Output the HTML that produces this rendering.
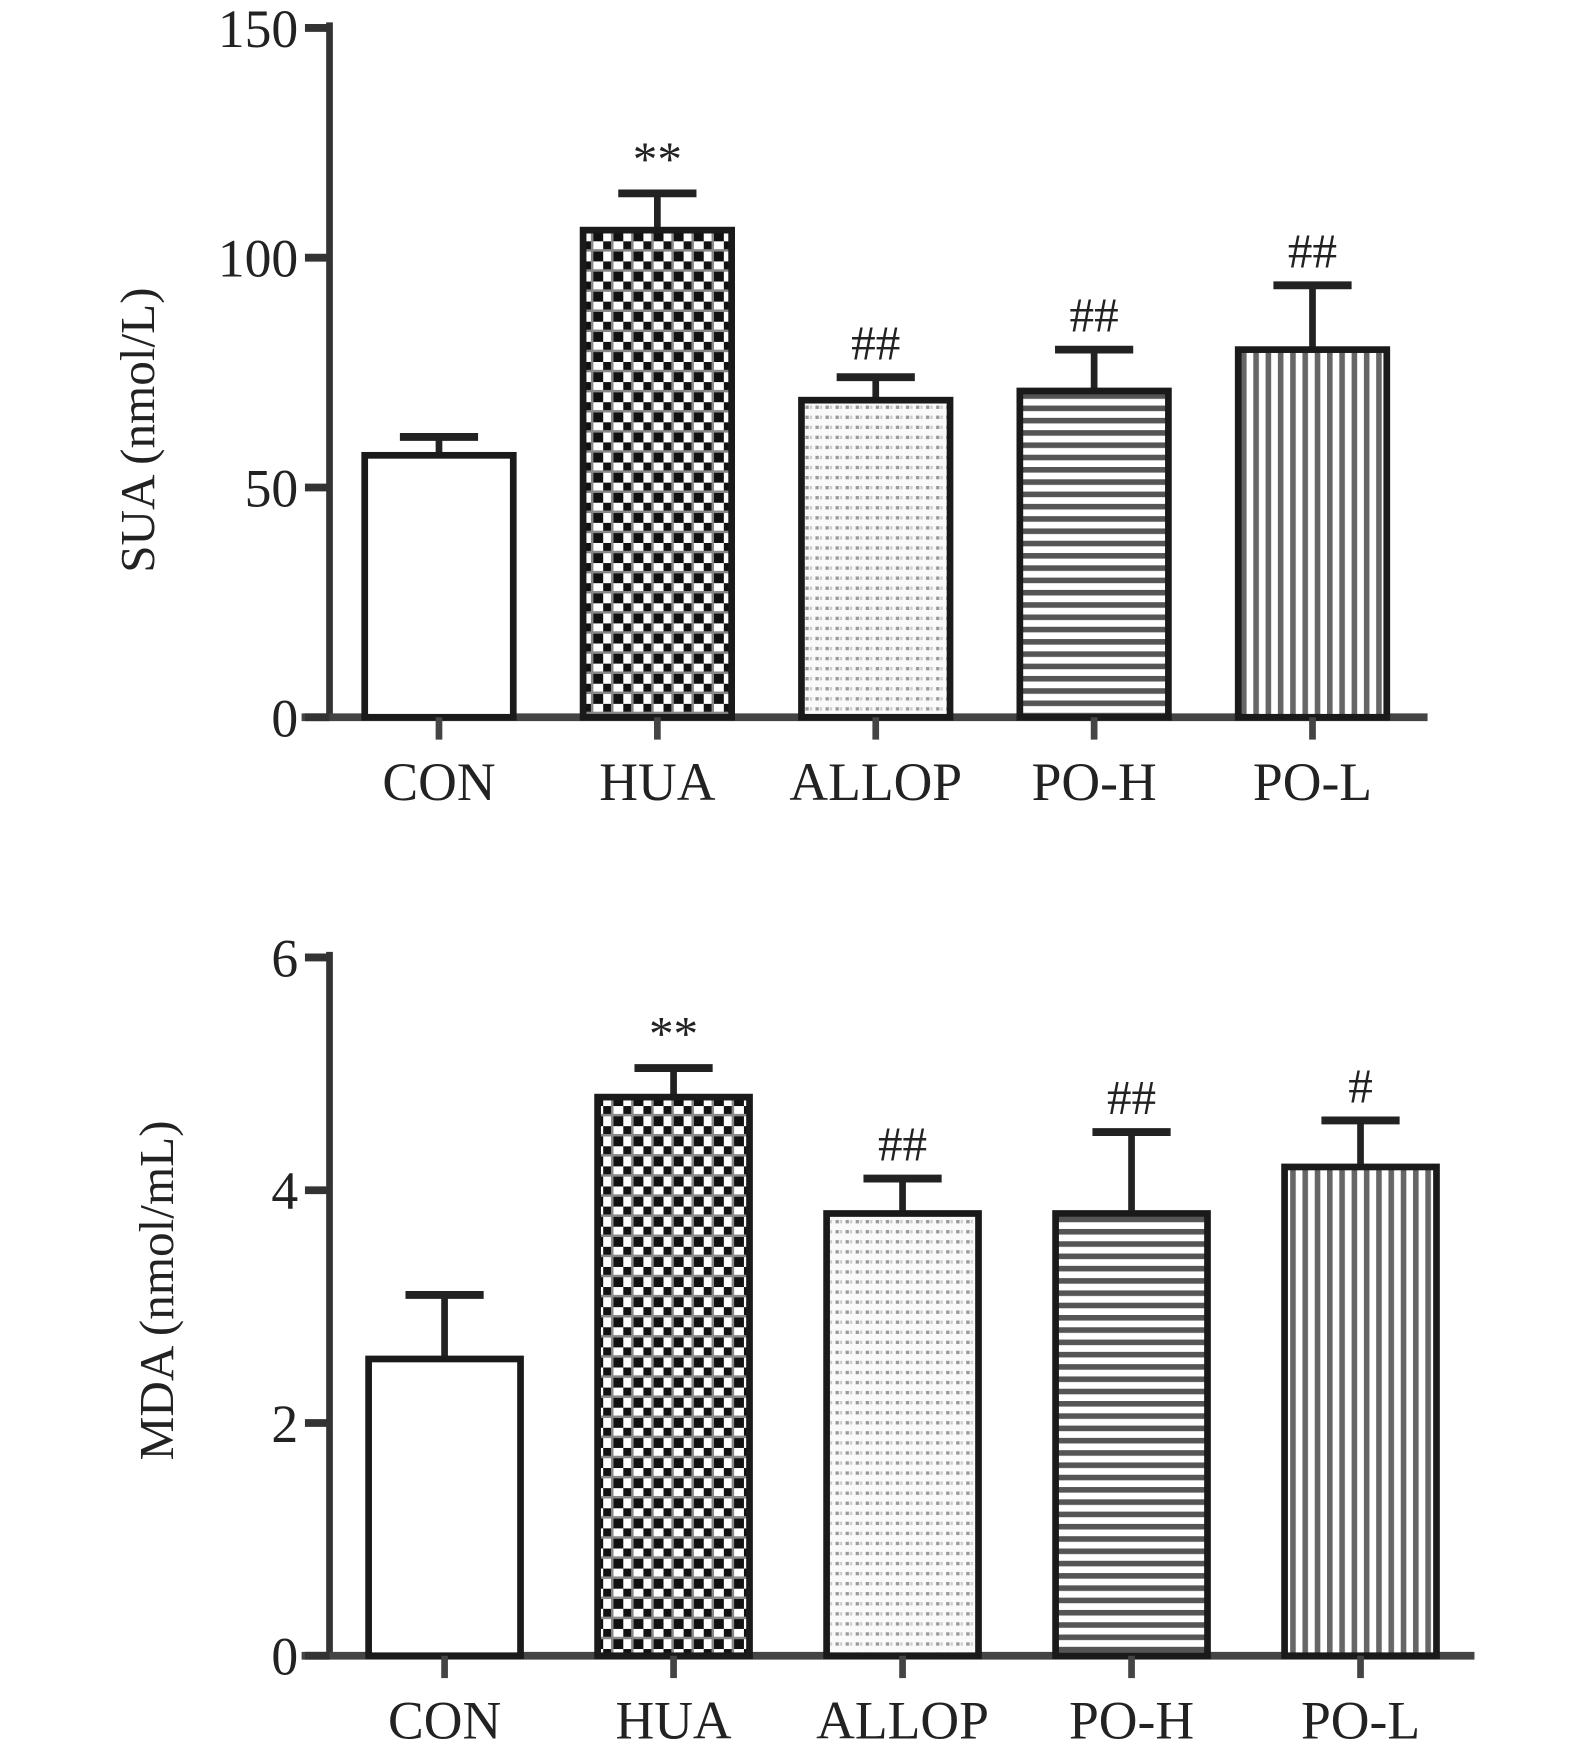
<!DOCTYPE html>
<html><head><meta charset="utf-8"><style>
html,body{margin:0;padding:0;background:#fff;}
svg{display:block;}
text{font-family:"Liberation Serif",serif;fill:#222;}
</style></head><body>
<svg id="chart" width="1575" height="1763" viewBox="0 0 1410 1578" preserveAspectRatio="none" xmlns="http://www.w3.org/2000/svg">
<defs>
<pattern id="p-check" width="18" height="18" patternUnits="userSpaceOnUse">
<rect width="18" height="18" fill="#fff"/><rect width="9" height="9" fill="#111"/><rect x="9" y="9" width="9" height="9" fill="#111"/>
<rect x="0" y="7" width="18" height="2" fill="#888"/><rect x="7" y="0" width="2" height="18" fill="#888"/></pattern>
<pattern id="p-dot" width="9" height="9" patternUnits="userSpaceOnUse">
<rect width="9" height="9" fill="#fafafa"/><rect x="1" y="3" width="3" height="3" fill="#999"/><rect x="5" y="3" width="2" height="3" fill="#ccc"/></pattern>
<pattern id="p-hline" width="11" height="11" patternUnits="userSpaceOnUse">
<rect width="11" height="11" fill="#fff"/><rect y="0" width="11" height="5" fill="#555"/></pattern>
<pattern id="p-vline" width="11" height="11" patternUnits="userSpaceOnUse">
<rect width="11" height="11" fill="#fff"/><rect x="0" width="5" height="11" fill="#666"/></pattern>
</defs>
<g id="top"></g>
<g id="bot"></g>
</svg>
<script>
const categories = ["CON","HUA","ALLOP","PO-H","PO-L"];
const suaValues = [57, 106, 69, 71, 80];
const suaErrors = [4, 8, 5, 9, 14];
const suaMarks = ["", "**", "##", "##", "##"];
const suaTicks = [0, 50, 100, 150];
const mdaValues = [2.55, 4.8, 3.8, 3.8, 4.2];
const mdaErrors = [0.55, 0.25, 0.3, 0.7, 0.4];
const mdaMarks = ["", "**", "##", "##", "#"];
const mdaTicks = [0, 2, 4, 6];
const fills = ["#fff","url(#p-check)","url(#p-dot)","url(#p-hline)","url(#p-vline)"];
const NS = "http://www.w3.org/2000/svg";
function mk(parent, tag, attrs, txt){const e=document.createElementNS(NS,tag);for(const k in attrs)e.setAttribute(k,attrs[k]);if(txt!==undefined)e.textContent=txt;parent.appendChild(e);return e;}
function draw(g, cfg){
  const y = v => cfg.y0 - (v - 0) / cfg.max * (cfg.y0 - cfg.yTop);
  const x = i => cfg.x0 + i * cfg.step;
  let a = mk(g,'line',{x1:cfg.ax,y1:cfg.yTop-5,x2:cfg.ax,y2:cfg.y0,stroke:'#333','stroke-width':6});
   
  a = mk(g,'line',{x1:cfg.ax-25,y1:cfg.y0,x2:cfg.xEnd,y2:cfg.y0,stroke:'#444','stroke-width':7});
   
  cfg.ticks.forEach(t=>{
    const l=mk(g,'line',{x1:cfg.ax-22,y1:y(t),x2:cfg.ax,y2:y(t),stroke:'#333','stroke-width':7});
     
    const tx=mk(g,'text',{x:cfg.ax-28,y:y(t)+17,'text-anchor':'end','font-size':48},String(t));
     
  });
  const t=mk(g,'text',{x:0,y:0,'text-anchor':'middle','font-size':44,transform:`translate(${cfg.titleX},${cfg.titleY}) rotate(-90)`},cfg.title);
   
  categories.forEach((c,i)=>{
    const cx=x(i);
    const top=y(cfg.values[i]), et=y(cfg.values[i]+cfg.errors[i]);
    const eb=mk(g,'line',{x1:cx,y1:top,x2:cx,y2:et,stroke:'#222','stroke-width':6});
     
    const cap=mk(g,'line',{x1:cx-35,y1:et,x2:cx+35,y2:et,stroke:'#222','stroke-width':7});
     
    const r=mk(g,'rect',{x:cx-cfg.bw/2,y:top,width:cfg.bw,height:cfg.y0-top,fill:fills[i],stroke:'#1a1a1a','stroke-width':6});
     
    const tk=mk(g,'line',{x1:cx,y1:cfg.y0,x2:cx,y2:cfg.y0+20,stroke:'#444','stroke-width':6});
     
    const lb=mk(g,'text',{x:cx,y:cfg.y0+74,'text-anchor':'middle','font-size':48},c);
     
    if(cfg.marks[i]){
      const m=mk(g,'text',{x:cx,y:et-16,'text-anchor':'middle','font-size':44},cfg.marks[i]);
       
    }
  });
}
draw(document.getElementById('top'),{values:suaValues,errors:suaErrors,marks:suaMarks,ticks:suaTicks,max:150,y0:642,yTop:25,ax:295,xEnd:1278,x0:393,step:195.5,bw:133,title:'SUA (nmol/L)',titleX:138,titleY:385});
draw(document.getElementById('bot'),{values:mdaValues,errors:mdaErrors,marks:mdaMarks,ticks:mdaTicks,max:6,y0:1482,yTop:857,ax:295,xEnd:1320,x0:398,step:205,bw:136,title:'MDA (nmol/mL)',titleX:155,titleY:1155});
</script>
</body></html>
